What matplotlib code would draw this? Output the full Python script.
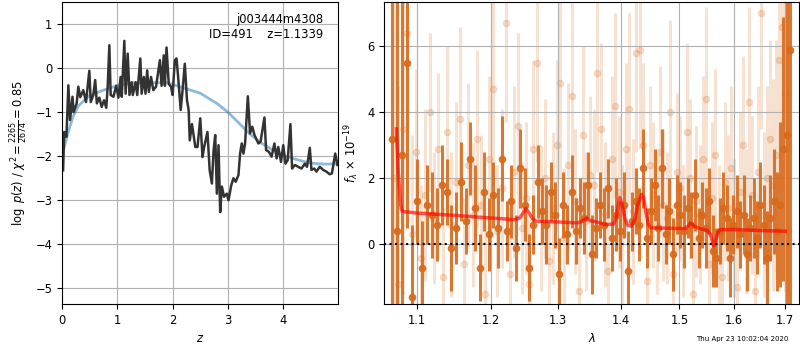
import numpy as np
import matplotlib
matplotlib.use('Agg')
import matplotlib.pyplot as plt
from matplotlib.ticker import FixedLocator, FixedFormatter, NullLocator

plt.rcParams['font.size'] = 8.3

# --- p(z) panel ---
z_prior = [0.0, 0.1, 0.2, 0.3, 0.5, 0.75, 1.0, 1.3, 1.6, 1.9, 2.2, 2.5, 2.8, 3.0,
           3.2, 3.4, 3.6, 3.8, 4.0, 4.2, 4.4, 4.6, 4.8, 4.97]
lnp_prior = [-2.0, -1.5, -1.1, -0.85, -0.62, -0.5, -0.4, -0.33, -0.33, -0.33, -0.45,
             -0.57, -0.8, -1.0, -1.25, -1.5, -1.7, -1.85, -1.98, -2.06, -2.13, -2.17,
             -2.18, -2.17]

z_grid = [0.02, 0.04, 0.08, 0.115, 0.145, 0.19, 0.21, 0.265, 0.295, 0.33, 0.385, 0.434,
          0.494, 0.52, 0.566, 0.6, 0.63, 0.675, 0.717, 0.76, 0.8, 0.826, 0.856, 0.88,
          0.93, 0.98, 1.02, 1.06, 1.08, 1.127, 1.15, 1.188, 1.22, 1.26, 1.28, 1.33,
          1.36, 1.416, 1.44, 1.48, 1.51, 1.54, 1.57, 1.61, 1.65, 1.7, 1.77, 1.8, 1.84,
          1.86, 1.89, 1.93, 1.97, 2.0, 2.04, 2.07, 2.1, 2.146, 2.18, 2.22, 2.26, 2.29,
          2.31, 2.35, 2.41, 2.45, 2.5, 2.54, 2.57, 2.63, 2.67, 2.71, 2.74, 2.77, 2.8,
          2.83, 2.86, 2.89, 2.93, 2.98, 3.01, 3.06, 3.1, 3.14, 3.19, 3.22, 3.25, 3.28,
          3.31, 3.36, 3.4, 3.44, 3.48, 3.51, 3.55, 3.59, 3.66, 3.69, 3.74, 3.79, 3.84,
          3.88, 3.91, 3.96, 4.0, 4.04, 4.08, 4.13, 4.16, 4.21, 4.27, 4.33, 4.39, 4.43,
          4.48, 4.51, 4.56, 4.6, 4.66, 4.72, 4.78, 4.84, 4.88, 4.94, 4.98]
lnp = [-2.32, -1.45, -1.56, -0.39, -1.18, -0.65, -1.0, -0.8, -0.42, -0.66, -0.5, -0.77,
       -0.06, -0.77, -0.61, -0.27, -0.8, -0.67, -0.88, -0.73, -0.9, -0.42, 0.52, -0.61,
       -0.65, -0.4, -0.67, -0.2, -0.65, 0.62, -0.58, 0.33, -0.61, -0.32, -0.61, -0.32,
       -0.61, 0.22, -0.58, -0.2, -0.58, -0.05, -0.54, -0.2, -0.5, -0.42, 0.18, -0.4,
       0.29, -0.4, 0.47, -0.36, -0.42, -0.61, 0.18, 0.22, -0.2, -0.95, -0.5, 0.1,
       -0.73, -0.95, -1.64, -1.27, -1.79, -1.79, -1.14, -2.02, -1.79, -1.45, -2.32,
       -2.62, -1.88, -1.52, -2.85, -1.75, -3.27, -2.69, -2.92, -2.85, -3.0, -2.66, -2.5,
       -2.58, -2.43, -1.94, -1.71, -1.94, -1.71, -0.64, -1.48, -1.33, -1.52, -1.6,
       -1.71, -1.67, -1.12, -1.86, -1.9, -2.01, -1.71, -2.05, -1.79, -2.13, -1.75,
       -2.17, -2.09, -1.27, -2.28, -2.2, -2.24, -2.28, -2.17, -2.24, -1.81, -2.31,
       -2.28, -2.35, -2.24, -2.31, -2.35, -2.41, -2.39, -1.94, -2.2]

# --- spectrum panel ---
lam_dark = np.linspace(1.068, 1.709, 100)
flux_dark = [3.2, 0.4, 2.7, 5.5, -1.6, 1.3, -0.7, 1.2, 0.9, 0.6,
             1.8, 1.6, -0.1, 0.5, 1.9, 0.7, 2.6, 1.1, -0.7, 1.6,
             0.3, 1.5, 0.5, 2.6, 0.4, 1.3, -0.1, 2.3, 1.2, -0.7,
             0.6, 1.9, 1.0, 0.6, 1.6, 0.9, -0.9, 1.2, 0.3, 1.6,
             0.4, 1.1, 0.8, 1.8, -0.3, 0.5, 1.2, 0.6, 1.7, 0.2,
             0.9, 0.4, 1.2, -0.8, 0.7, 1.3, 0.6, 2.3, 0.2, 1.0,
             1.8, 0.5, 2.3, 0.3, 1.0, -0.3, 1.2, 0.9, 0.4, 1.1,
             0.6, 1.5, 0.2, 0.9, 0.5, 1.3, -0.2, -0.4, 0.4, 1.1,
             0.8, -0.4, 0.6, 1.0, 0.3, 0.9, -0.3, 0.5, 0.8, 0.2,
             1.2, 0.6, -0.4, 0.8, 1.3, 0.4, 1.2, 2.9, 3.3, 5.9]
err_dark = [8.0, 7.0, 6.0, 5.0, 2.2, 1.3, 1.4, 1.2, 1.3, 1.1,
            1.2, 1.0, 1.3, 1.1, 1.2, 1.0, 1.1, 1.3, 1.0, 1.2,
            1.1, 1.0, 1.2, 1.3, 0.9, 1.1, 1.0, 1.2, 1.1, 1.0,
            0.9, 1.1, 1.0, 1.2, 0.9, 1.0, 1.1, 1.0, 0.9, 1.1,
            1.0, 0.9, 1.1, 1.0, 1.2, 0.9, 1.0, 1.1, 0.9, 1.0,
            1.1, 0.9, 1.0, 1.2, 0.9, 1.0, 1.1, 1.2, 0.9, 1.0,
            1.1, 1.0, 1.2, 0.9, 1.0, 1.1, 0.9, 1.0, 1.1, 0.9,
            1.0, 1.1, 0.9, 1.0, 1.2, 1.0, 1.1, 0.9, 1.0, 1.1,
            1.0, 1.2, 0.9, 1.1, 1.0, 1.2, 1.1, 1.0, 1.2, 1.1,
            1.3, 1.2, 1.4, 1.3, 1.6, 1.8, 2.5, 4.0, 6.0, 8.0]

lam_light = np.linspace(1.07, 1.705, 110)
flux_light = [2.0, -1.2, 3.5, 6.4, 0.3, 2.8, -0.4, 1.5, 4.0, 0.8,
              2.9, -1.0, 3.4, 0.6, 1.9, 3.8, -0.6, 2.4, 0.9, 3.2,
              1.2, -1.5, 2.6, 4.7, 0.4, 1.7, 6.7, -0.9, 2.2, 3.6,
              0.5, 1.4, -1.2, 2.9, 5.5, 0.8, 2.0, -0.5, 1.1, 3.0,
              4.9, 0.2, 2.4, 4.5, 1.3, -1.4, 3.3, 0.7, 2.1, 1.8,
              5.2, 3.5, 0.9, -0.8, 2.6, 4.2, 1.6, 0.3, 2.9, 4.1,
              1.0, 5.8, 5.9, 3.0, -1.1, 2.4, 1.5, 0.6, 2.8, 1.2,
              0.8, 4.0, -0.9, 2.2, 1.7, 0.4, 3.4, 2.0, -1.5, 1.3,
              0.9, 2.6, 4.4, -0.6, 1.4, 2.7, 0.3, -1.0, 1.9, 1.1,
              2.3, 0.5, -1.3, 1.6, 3.0, 0.7, 4.3, 1.5, -1.4, 2.2,
              7.0, 0.9, 2.0, 3.2, 1.8, 2.7, 5.6, 6.6, 4.6, 0.4]
err_light = [7.0, 6.0, 5.0, 4.0, 3.0, 2.5, 2.2, 2.6, 2.4, 2.0,
             2.3, 2.1, 2.6, 2.2, 2.4, 2.8, 2.0, 2.5, 2.2, 2.7,
             2.1, 2.3, 2.5, 2.9, 2.0, 2.4, 3.0, 2.2, 2.6, 2.8,
             2.0, 2.3, 2.1, 2.7, 3.0, 2.2, 2.4, 2.0, 2.3, 2.6,
             2.9, 2.1, 2.5, 2.8, 2.2, 2.0, 2.7, 2.1, 2.4, 2.3,
             3.0, 2.6, 2.2, 2.0, 2.5, 2.8, 2.3, 2.1, 2.6, 2.9,
             2.2, 3.0, 3.0, 2.5, 2.0, 2.4, 2.2, 2.1, 2.6, 2.3,
             2.0, 2.8, 2.1, 2.4, 2.2, 2.0, 2.7, 2.4, 2.1, 2.3,
             2.1, 2.5, 2.8, 2.0, 2.3, 2.6, 2.1, 2.2, 2.4, 2.2,
             2.5, 2.1, 2.3, 2.4, 2.7, 2.2, 2.9, 2.4, 2.3, 2.6,
             3.5, 2.5, 2.8, 3.0, 3.2, 3.5, 4.0, 5.0, 6.0, 7.0]

lam_model = [1.0735, 1.076, 1.079, 1.081, 1.10, 1.15, 1.20, 1.235, 1.242, 1.247, 1.251,
             1.256, 1.261, 1.267, 1.30, 1.33, 1.337, 1.3435, 1.35, 1.36, 1.375, 1.388,
             1.392, 1.395, 1.398, 1.402, 1.406, 1.411, 1.417, 1.423, 1.428, 1.4344,
             1.438, 1.442, 1.446, 1.45, 1.48, 1.51, 1.515, 1.52, 1.525, 1.533, 1.55,
             1.556, 1.5595, 1.5625, 1.566, 1.570, 1.576, 1.60, 1.65, 1.70]
flux_model = [3.5, 2.2, 1.2, 1.0, 0.95, 0.88, 0.8, 0.75, 0.8, 0.95, 1.09, 0.95, 0.78,
              0.7, 0.68, 0.65, 0.7, 0.8, 0.72, 0.68, 0.6, 0.62, 0.8, 1.15, 1.42, 1.2,
              0.8, 0.58, 0.55, 0.75, 1.2, 1.52, 1.4, 0.95, 0.6, 0.5, 0.49, 0.48, 0.55,
              0.65, 0.57, 0.5, 0.42, 0.3, 0.1, -0.05, 0.15, 0.38, 0.45, 0.45, 0.42, 0.4]

# timestamp
stamp = 'Thu Apr 23 10:02:04 2020'

fig = plt.figure(figsize=(8, 3.5), dpi=100)

# Left: redshift PDF
axz = fig.add_axes([0.0775, 0.131, 0.345, 0.863])
axz.plot(z_prior, lnp_prior, color='tab:blue', alpha=0.5, lw=2)
axz.plot(z_grid, lnp, color='0.2', lw=1.8)
axz.set_xlim(0, 4.99)
axz.set_ylim(-5.36, 1.5)
axz.set_xticks([0, 1, 2, 3, 4])
axz.set_yticks([-5, -4, -3, -2, -1, 0, 1])
axz.grid(True)
axz.set_xlabel('$z$')
axz.set_ylabel(r'$\log\ p(z)$ / $\chi^2=\frac{2265}{2674}=0.85$')
axz.text(0.946, 0.965, 'j003444m4308\nID=491    z=1.1339', ha='right', va='top',
         transform=axz.transAxes)

# Right: spectrum
ax = fig.add_axes([0.48, 0.131, 0.519, 0.863])
col = '#d86a1c'
ax.errorbar(lam_light, flux_light, err_light, color=col, alpha=0.2, marker='o',
            markersize=4.5, linestyle='None', elinewidth=2.2, zorder=1)
ax.errorbar(lam_dark, flux_dark, err_dark, color=col, alpha=0.9, marker='o',
            markersize=4.5, linestyle='None', elinewidth=2.2, zorder=2)
ax.plot(lam_model, flux_model, color='red', alpha=0.65, lw=2.5, zorder=4)
ax.axhline(0, color='k', ls=':', lw=1.5, zorder=5)

ax.set_xscale('log')
ax.set_xlim(1.058, 1.728)
ax.set_ylim(-1.81, 7.34)
xt = [1.1, 1.2, 1.3, 1.4, 1.5, 1.6, 1.7]
ax.xaxis.set_major_locator(FixedLocator(xt))
ax.xaxis.set_major_formatter(FixedFormatter(['%.1f' % v for v in xt]))
ax.xaxis.set_minor_locator(NullLocator())
ax.set_yticks([0, 2, 4, 6])
ax.grid(True)
ax.set_xlabel(r'$\lambda$')
ax.set_ylabel(r'$f_\lambda\,\times\,10^{-19}$')

fig.text(0.985, 0.031, stamp, ha='right', va='center', fontsize=5)

plt.savefig('out.png', dpi=100)
